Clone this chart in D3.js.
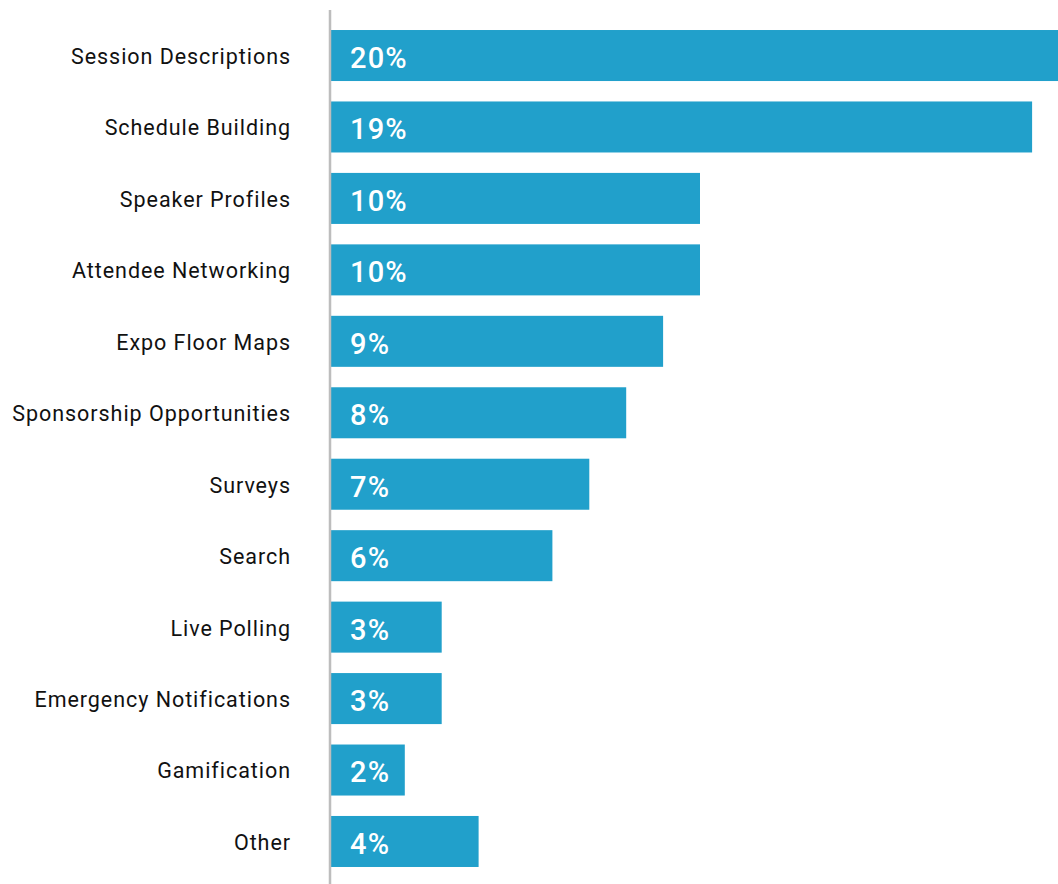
<!DOCTYPE html>
<html>
<head>
<meta charset="utf-8">
<script src="https://cdn.jsdelivr.net/npm/d3@7"></script>
<style>
  html, body { margin: 0; padding: 0; background: #fff; overflow: hidden; }
  svg { display: block; }
</style>
</head>
<body>
<svg id="chart" width="1058" height="884"></svg>
<script>
// Feature usage shares, top to bottom
const categories = [
  "Session Descriptions", "Schedule Building", "Speaker Profiles",
  "Attendee Networking", "Expo Floor Maps", "Sponsorship Opportunities",
  "Surveys", "Search", "Live Polling", "Emergency Notifications",
  "Gamification", "Other"
];
const values = [20, 19, 10, 10, 9, 8, 7, 6, 3, 3, 2, 4];

const W = 1058, H = 884;
const svg = d3.select("#chart");

const x = d3.scaleLinear().domain([0, 20]).range([331, 1069]);
const y = d3.scaleBand()
  .domain(categories)
  .range([19.8, 877.2])
  .paddingInner(0.286)
  .paddingOuter(0.143);

const rows = categories.map((c, i) => ({ c, v: values[i] }));

// bars
svg.append("g").selectAll("rect")
  .data(rows)
  .join("rect")
  .attr("x", x(0))
  .attr("y", d => y(d.c))
  .attr("width", d => x(d.v) - x(0))
  .attr("height", y.bandwidth())
  .attr("fill", "#21a0cb");

// value labels inside bars
svg.append("g").selectAll("text")
  .data(rows)
  .join("text")
  .attr("x", x(0) + 19)
  .attr("y", d => y(d.c) + y.bandwidth() / 2 + 2)
  .attr("dy", "0.36em")
  .attr("fill", "#fff")
  .attr("font-family", "Roboto, 'DejaVu Sans', sans-serif")
  .attr("font-weight", 500)
  .attr("font-size", 29)
  .attr("letter-spacing", 1.2)
  .text(d => d.v + "%");

// category axis on the left
const axis = d3.axisLeft(y).tickSize(0).tickPadding(39);
const ag = svg.append("g")
  .attr("transform", `translate(${x(0) - 1},1.5)`)
  .call(axis);
ag.select(".domain").remove();
ag.selectAll("text")
  .attr("fill", "#111")
  .attr("font-family", "Roboto, 'DejaVu Sans', sans-serif")
  .attr("font-size", 21.5)
  .attr("letter-spacing", 0.95);

// vertical baseline
svg.append("line")
  .attr("x1", x(0) - 1).attr("x2", x(0) - 1)
  .attr("y1", 10).attr("y2", H)
  .attr("stroke", "#bdbdbd")
  .attr("stroke-width", 2.5);
</script>
</body>
</html>
